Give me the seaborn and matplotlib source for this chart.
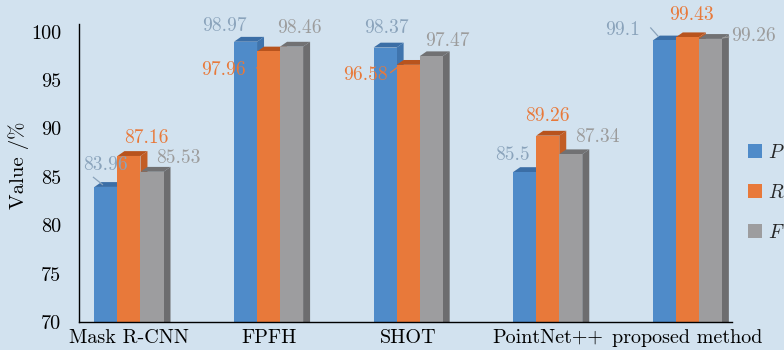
import matplotlib
matplotlib.use("Agg")
import matplotlib.pyplot as plt
from matplotlib.patches import Polygon
import pandas as pd
import seaborn as sns

# Detection metrics (%) per method
methods = ["Mask R-CNN", "FPFH", "SHOT", "PointNet++", "proposed method"]
precision = [83.96, 98.97, 98.37, 85.5, 99.1]
recall = [87.16, 97.96, 96.58, 89.26, 99.43]
f_score = [85.53, 98.46, 97.47, 87.34, 99.26]
metric_names = ["P", "R", "F"]
yticks = [70, 75, 80, 85, 90, 95, 100]

bg = "#d2e2ef"
front = ["#4f8bc9", "#e8793a", "#9d9d9f"]
top_face = ["#3b6ea6", "#b8531d", "#717173"]
side_face = ["#3f74ad", "#c25d25", "#6d6d6f"]
label_col = ["#8aa3bb", "#e8793a", "#9c9c9c"]

df = pd.DataFrame({
    "method": methods * 3,
    "value": precision + recall + f_score,
    "metric": [m for m in metric_names for _ in methods],
})

sns.set_theme(style="white")
plt.rcParams["font.family"] = ["cmr10", "DejaVu Serif"]
plt.rcParams["mathtext.fontset"] = "cm"
plt.rcParams["axes.unicode_minus"] = False

fig = plt.figure(figsize=(7.84, 3.5), dpi=100, facecolor=bg)
ax = fig.add_axes([79 / 784, 1 - 322 / 350, (732 - 79) / 784, (322 - 24) / 350])
ax.set_facecolor(bg)

sns.barplot(data=df, x="method", y="value", hue="metric", order=methods,
            hue_order=metric_names, palette=front, width=0.495, gap=0,
            saturation=1, linewidth=0, ax=ax, legend=True)

y0, y1 = 70, 100.8
ax.set_ylim(y0, y1)
ax.set_xlim(-0.358, 4.32)

# 3D look: a top face and a side face behind each front rectangle
dx, dy = 0.05, 0.5
bars = [p for p in ax.patches if p.get_height() > 0]
for p in bars:
    k = metric_names.index(
        df.loc[(abs(df["value"] - p.get_height()) < 1e-9), "metric"].iloc[0])
    xa = p.get_x()
    xb = xa + p.get_width()
    h = p.get_height()
    p.set_zorder(2.05 + 0.1 * k)
    ax.add_patch(Polygon([(xa, h), (xb, h), (xb + dx, h + dy), (xa + dx, h + dy)],
                         closed=True, facecolor=top_face[k], edgecolor="none",
                         zorder=2.0 + 0.1 * k))
    ax.add_patch(Polygon([(xb, y0 - 1), (xb, h), (xb + dx, h + dy), (xb + dx, y0 - 1)],
                         closed=True, facecolor=side_face[k], edgecolor="none",
                         zorder=2.0 + 0.1 * k))

# value labels: offsets in pixels from each bar's top centre
series = [precision, recall, f_score]
offsets = [
    [(0, 22), (-21, 16), (1, 19), (-12, 17), (-42, 10)],
    [(17, 18), (-45, -19), (-43, -10), (0, 20), (4, 22)],
    [(26, 14), (8, 19), (16, 15), (27, 17), (43, 3)],
]
# short leader lines (start, end) in pixels from the bar's top centre
leaders = {
    (0, 0): ((-13, 10), (-3, 2)),
    (1, 1): ((-12, -17), (-4, -4)),
    (1, 2): ((-18, -8), (-10, -2)),
    (0, 4): ((-14, 13), (-6, 4)),
    (2, 4): ((12, 1), (19, 2)),
}
w = 0.165
for k, vals in enumerate(series):
    for i, v in enumerate(vals):
        xc = i + (k - 1) * w
        ax.annotate(f"{v:g}", xy=(xc, v), xytext=offsets[k][i],
                    textcoords="offset pixels", ha="center", va="center",
                    fontsize=14, color=label_col[k], zorder=5)
        if (k, i) in leaders:
            start, end = leaders[(k, i)]
            base = ax.transData.transform((xc, v))
            inv = ax.transData.inverted()
            p0 = inv.transform((base[0] + start[0], base[1] + start[1]))
            p1 = inv.transform((base[0] + end[0], base[1] + end[1]))
            ax.plot([p0[0], p1[0]], [p0[1], p1[1]], color=label_col[k], lw=0.9,
                    zorder=5, solid_capstyle="butt")

ax.set_yticks(yticks)
ax.set_yticklabels([str(t) for t in yticks], fontsize=14.5)
ax.tick_params(axis="y", direction="in", length=3, width=0.8, color="black", pad=13)
ax.tick_params(axis="x", length=0, labelsize=14.5, pad=5)
for lbl in ax.get_xticklabels() + ax.get_yticklabels():
    lbl.set_color("black")
ax.set_xlabel("")
ax.set_ylabel("Value /%", fontsize=15, color="black")
ax.yaxis.set_label_coords(-0.077, 0.527)
for s in ["top", "right"]:
    ax.spines[s].set_visible(False)
for s in ["left", "bottom"]:
    ax.spines[s].set_color("black")
    ax.spines[s].set_linewidth(1.0)

handles, _ = ax.get_legend_handles_labels()
ax.get_legend().remove()
fig.legend(handles, ["$P$", "$R$", "$F$"], loc="upper left",
           bbox_to_anchor=(0.932, 0.64), frameon=False, fontsize=14,
           handlelength=0.7, handleheight=0.7, handletextpad=0.3,
           labelspacing=1.14, borderpad=0.4)

fig.savefig("out.png", dpi=100, facecolor=bg)
